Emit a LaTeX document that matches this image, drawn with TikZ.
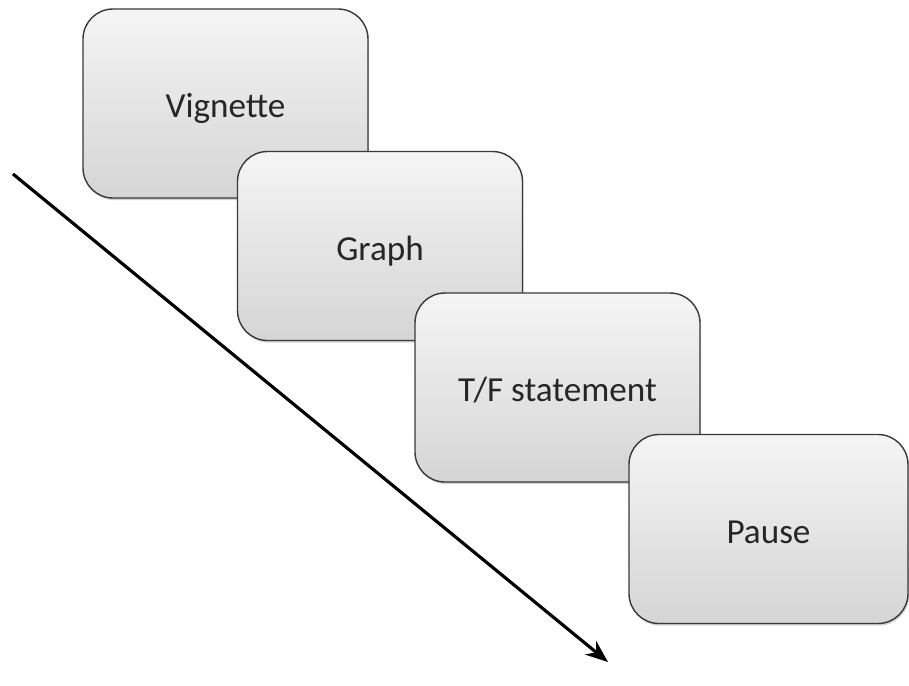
\documentclass[tikz,border=0pt]{standalone}
\usepackage{fontspec}
\setmainfont{Carlito}
\usetikzlibrary{arrows.meta, shadows}

\begin{document}
\begin{tikzpicture}
    \useasboundingbox (0, 0) rectangle (18.18, -13.7);

    % one style for all the screens
    \tikzset{
      screen/.style={
        draw=gray!45!black, line width=0.8pt, rounded corners=0.6cm,
        top color=gray!8, bottom color=gray!33,
        minimum width=5.7cm, minimum height=3.78cm,
        text height=0.72cm, text depth=0.15cm,
        font=\fontsize{20}{24}\selectfont, text=black!85,
        drop shadow={opacity=0.35, shadow xshift=0.6pt, shadow yshift=-1.2pt}
      }
    }

    \coordinate (t0) at (0.26, -3.48);
    \coordinate (t1) at (12.16, -13.24);
    \draw[line width=1.8pt, -{Stealth[length=0.45cm, width=0.35cm]}](t0) -- (t1);

    \node[screen] (vignette) at (4.51, -2.07) {Vignette};
    \node[screen] (graph) at (7.6, -4.92) {Graph};
    \node[screen] (tf) at (11.15, -7.75) {T/F statement};
    \node[screen, minimum width=5.58cm] (pause) at (15.37, -10.58) {Pause};
  \end{tikzpicture}
\end{document}
